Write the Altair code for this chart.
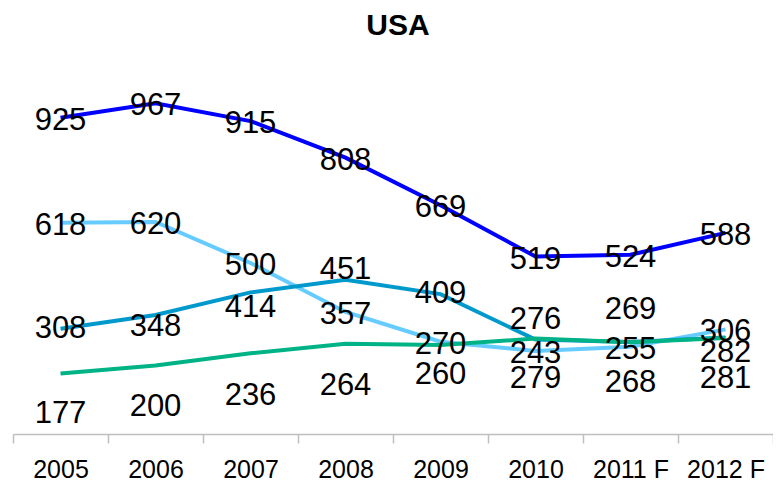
import altair as alt
import pandas as pd

years = ["2005", "2006", "2007", "2008", "2009", "2010", "2011 F", "2012 F"]
series_names = ["Series 1", "Series 2", "Series 3", "Series 4"]
s1 = [925, 967, 915, 808, 669, 519, 524, 588]
s2 = [618, 620, 500, 357, 270, 243, 255, 306]
s3 = [308, 348, 414, 451, 409, 276, 269, 282]
s4 = [177, 200, 236, 264, 260, 279, 268, 281]
colors = ["#0000FF", "#66CCFF", "#0099CC", "#00B386"]

# label offsets (pixels, downward) relative to each point, as placed in the original
dy1 = [3, 3, 3, 3, 3, 3, 3, 3]
dy2 = [3, 3, 3, 3, 3, 3, 3, 3]
dy3 = [0, 12, 16, -10, 0, -20, -32, 15]
dy4 = [41, 41, 43, 42, 30, 40, 41, 41]

PLOT_H = 342
Y_MAX = 1000

rows = []
for name, vals, dys in zip(series_names, [s1, s2, s3, s4], [dy1, dy2, dy3, dy4]):
    for i, (yr, v, d) in enumerate(zip(years, vals, dys)):
        rows.append({"year": yr, "value": v, "series": name, "dy": d, "order": i})
df = pd.DataFrame(rows)

FONT = "Liberation Sans"

x = alt.X(
    "year:N",
    sort=years,
    bandPosition=0.5,
    scale=alt.Scale(type="band", paddingInner=0, paddingOuter=0),
    axis=alt.Axis(
        title=None,
        labelAngle=0,
        tickBand="extent",
        domainColor="#BFBFBF",
        tickColor="#BFBFBF",
        domainWidth=1.5,
        tickWidth=1.5,
        tickSize=9,
        labelFont=FONT,
        labelFontSize=25,
        labelColor="black",
        labelPadding=14,
        grid=False,
    ),
)
yscale = alt.Scale(domain=[0, Y_MAX])
color = alt.Color(
    "series:N",
    scale=alt.Scale(domain=series_names, range=colors),
    legend=None,
)

base = alt.Chart(df)
lines = base.mark_line(strokeWidth=4).encode(
    x=x, y=alt.Y("value:Q", scale=yscale, axis=None), color=color, order="order:Q"
)
labels = (
    base.transform_calculate(label_pos=f"datum.value - datum.dy * {Y_MAX} / {PLOT_H}")
    .mark_text(font=FONT, fontSize=31, color="black", align="center", baseline="middle")
    .encode(
        x=x,
        y=alt.Y("label_pos:Q", scale=yscale, axis=None),
        text="value:Q",
    )
)

chart = (
    alt.layer(lines, labels)
    .properties(
        width=760,
        height=PLOT_H,
        title=alt.Title(
            "USA", font=FONT, fontSize=30, fontWeight="bold", anchor="middle",
            offset=49, dx=5, color="black"
        ),
        autosize=alt.AutoSizeParams(type="none"),
        padding={"left": 5, "top": 84, "right": 0, "bottom": 48},
    )
    .configure_view(stroke=None)
)

chart.save("out.html", embed_options={"renderer": "svg", "actions": False})
